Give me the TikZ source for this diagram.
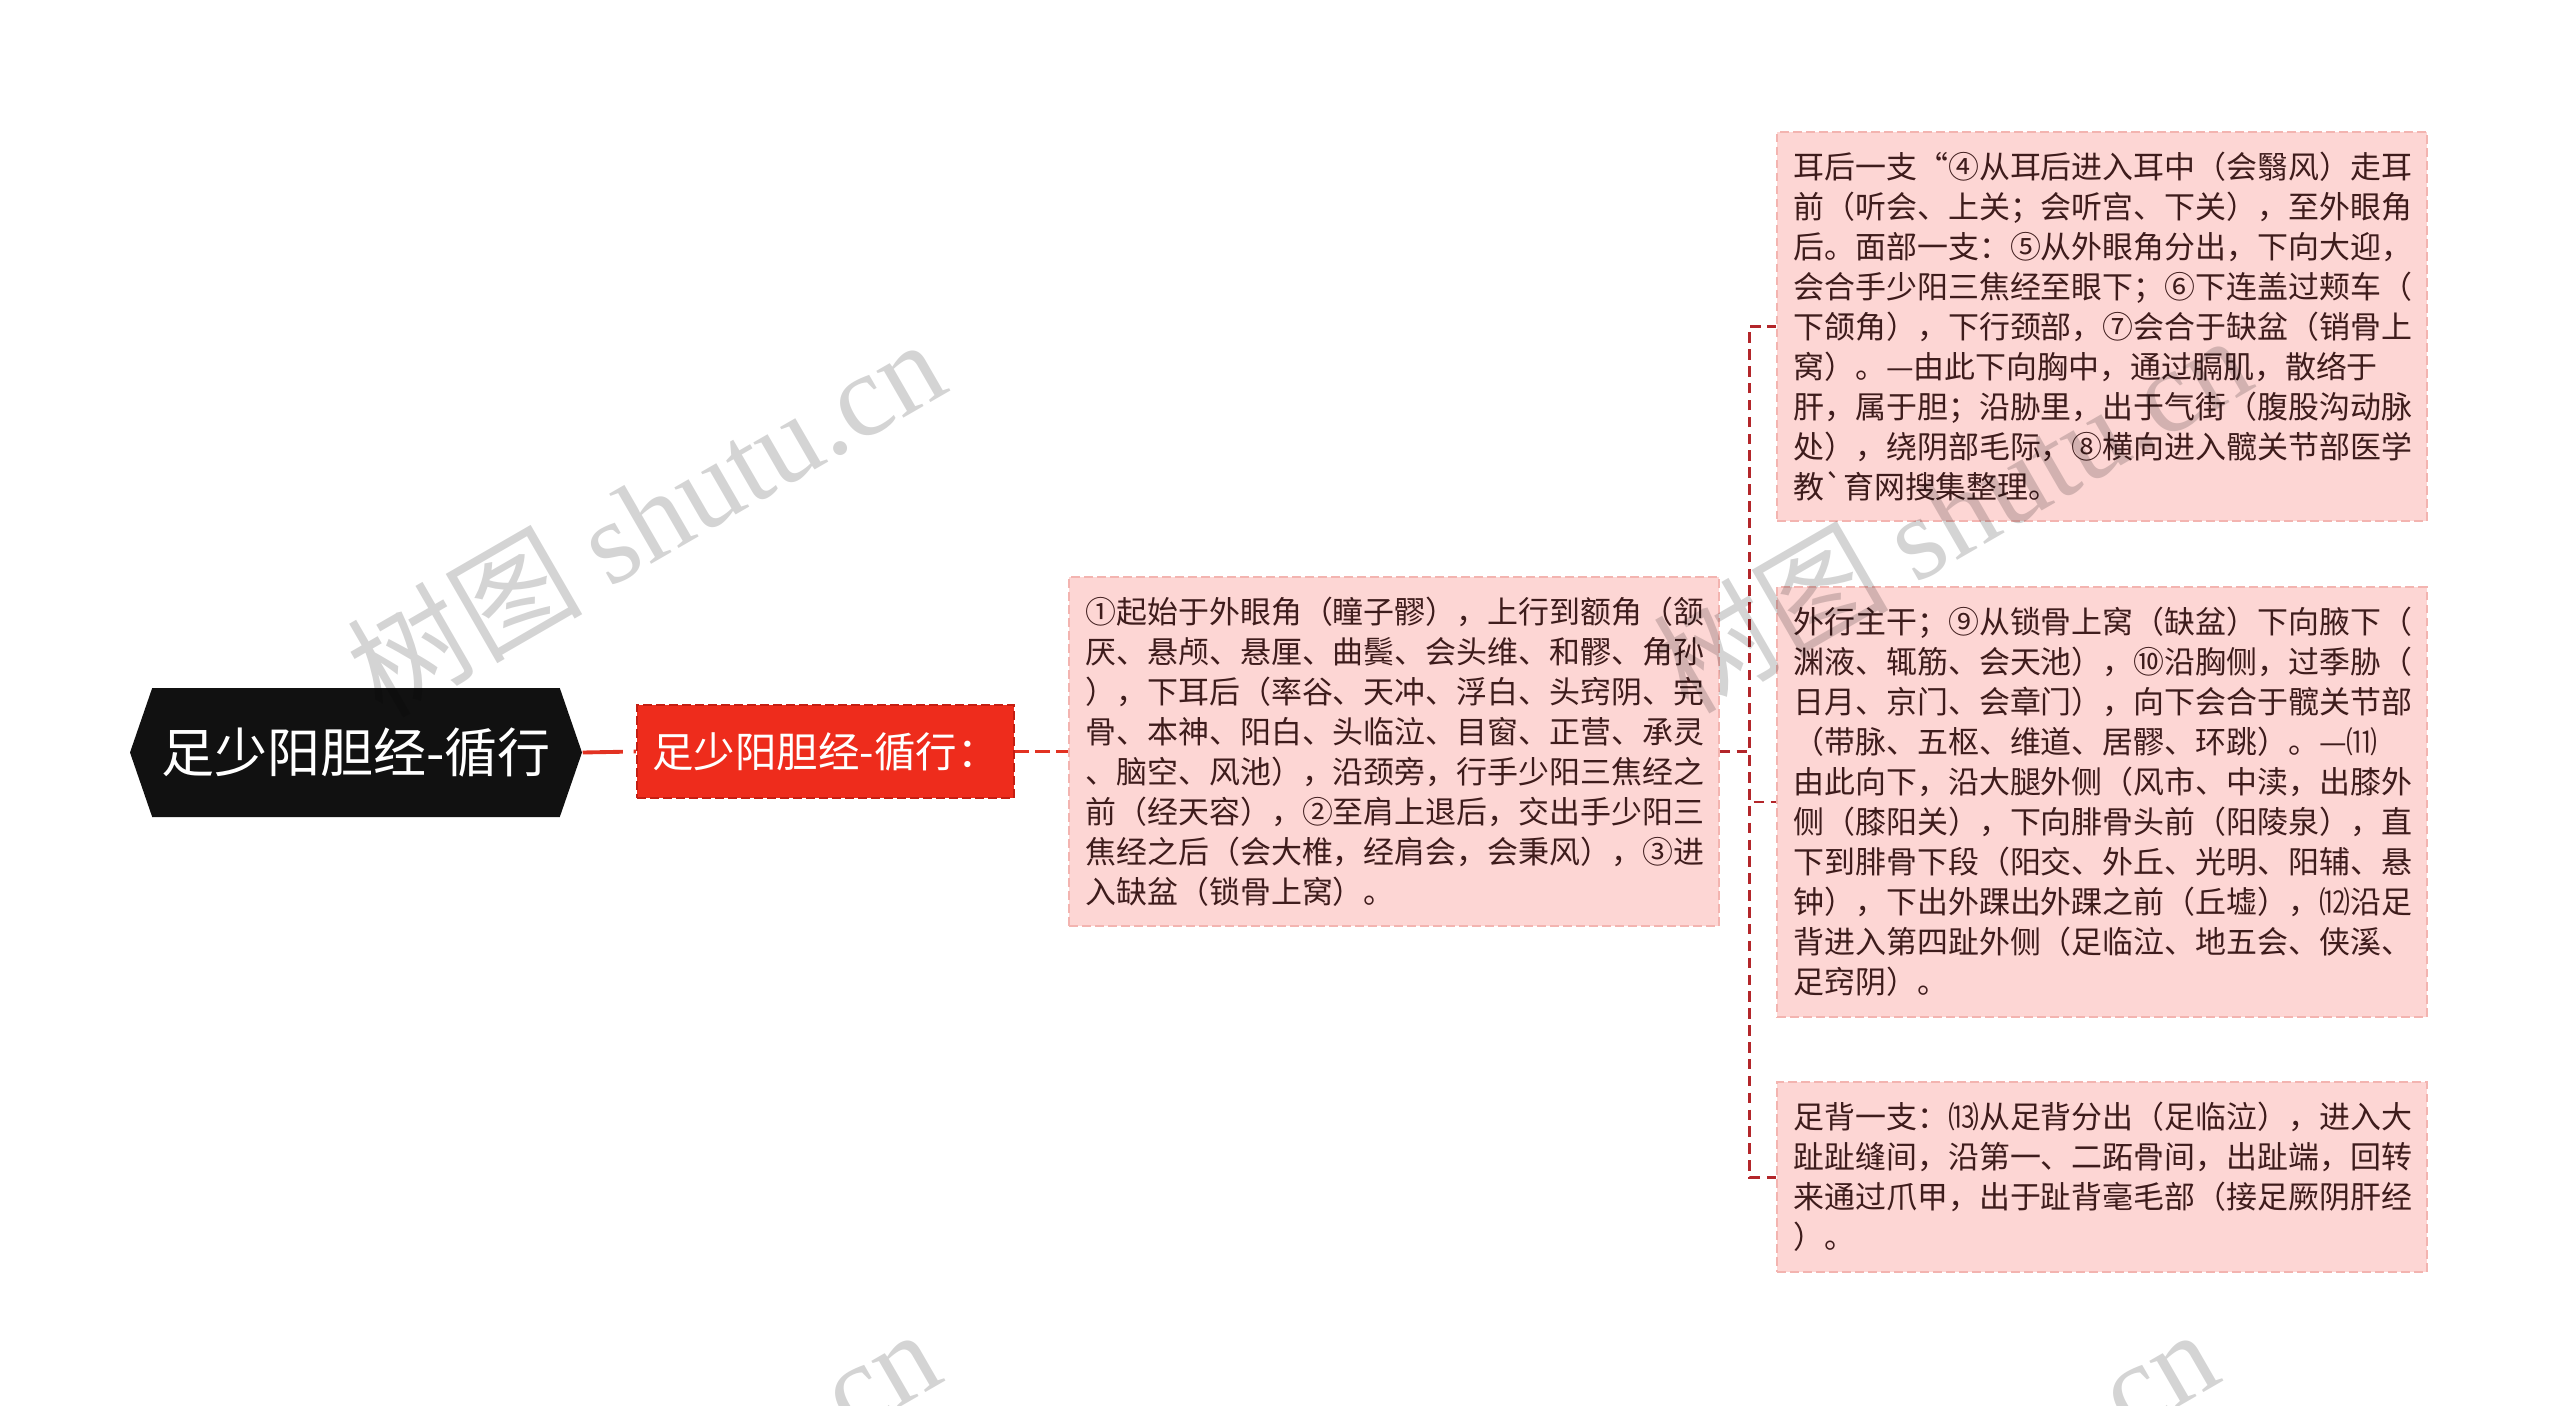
\documentclass[tikz,border=0pt]{standalone}
\usepackage{fontspec}
\setmainfont{Noto Sans CJK SC}
\newfontfamily\wmfont{Liberation Serif}
\usetikzlibrary{shapes.symbols}

\definecolor{rootblack}{HTML}{111111}
\definecolor{subred}{HTML}{EE2C1C}
\definecolor{subredline}{HTML}{C41E12}
\definecolor{linkred}{HTML}{E23222}
\definecolor{forkred}{HTML}{B3262A}
\definecolor{leafpink}{HTML}{FDD6D4}
\definecolor{leafline}{HTML}{F3B4B0}
\definecolor{leaftext}{HTML}{3E1C1C}

\tikzset{
  rootnode/.style={shape=signal, signal to=west and east, signal pointer angle=142,
    fill=rootblack, text=white, minimum width=4.52cm, minimum height=1.29cm, inner sep=0pt,
    font=\fontsize{15.1pt}{18pt}\selectfont},
  subnode/.style={fill=subred, draw=subredline, dash pattern=on 2.5pt off 1.2pt, line width=0.6pt,
    text=white, minimum width=3.77cm, minimum height=0.93cm, inner sep=0pt,
    font=\fontsize{11.8pt}{14pt}\selectfont},
  leafnode/.style={fill=leafpink, draw=leafline, dash pattern=on 2.5pt off 1.2pt, line width=0.5pt,
    text=leaftext, text width=6.17cm, inner xsep=0.165cm, inner ysep=0.2cm, align=left,
    font=\fontsize{8.8pt}{11.38pt}\selectfont},
  rootlink/.style={draw=linkred, line width=1.1pt, dash pattern=on 11.4pt off 3.1pt},
  sublink/.style={draw=linkred, line width=0.85pt, dash pattern=on 4pt off 1.8pt},
  forklink/.style={draw=forkred, line width=0.85pt, dash pattern=on 3pt off 1.8pt},
  watermark/.style={text=black, text opacity=0.17, rotate=30, inner sep=0pt,
    font=\fontsize{33.5pt}{36pt}\selectfont}
}

\begin{document}
\begin{tikzpicture}
  \useasboundingbox (0,0) rectangle (25.6,-14.06);

  \node[rootnode] (root) at (3.56,-7.525) {足少阳胆经-循行};
  \node[subnode] (sub) at (8.255,-7.515) {足少阳胆经-循行：};

  \node[leafnode] (course) at (13.94,-7.515) {①起始于外眼角（瞳子髎），上行到额角（颔\\
    厌、悬颅、悬厘、曲鬓、会头维、和髎、角孙\\
    ），下耳后（率谷、天冲、浮白、头窍阴、完\\
    骨、本神、阳白、头临泣、目窗、正营、承灵\\
    、脑空、风池），沿颈旁，行手少阳三焦经之\\
    前（经天容），②至肩上退后，交出手少阳三\\
    焦经之后（会大椎，经肩会，会秉风），③进\\
    入缺盆（锁骨上窝）。};

  \node[leafnode] (ear) at (21.02,-3.265) {耳后一支“④从耳后进入耳中（会翳风）走耳\\
    前（听会、上关；会听宫、下关），至外眼角\\
    后。面部一支：⑤从外眼角分出，下向大迎，\\
    会合手少阳三焦经至眼下；⑥下连盖过颊车（\\
    下颌角），下行颈部，⑦会合于缺盆（销骨上\\
    窝）。—由此下向胸中，通过膈肌，散络于\\
    肝，属于胆；沿胁里，出于气街（腹股沟动脉\\
    处），绕阴部毛际，⑧横向进入髋关节部医学\\
    教\textasciigrave 育网搜集整理。};

  \node[leafnode] (trunk) at (21.02,-8.02) {外行主干；⑨从锁骨上窝（缺盆）下向腋下（\\
    渊液、辄筋、会天池），⑩沿胸侧，过季胁（\\
    日月、京门、会章门），向下会合于髋关节部\\
    （带脉、五枢、维道、居髎、环跳）。—⑾\\
    由此向下，沿大腿外侧（风市、中渎，出膝外\\
    侧（膝阳关），下向腓骨头前（阳陵泉），直\\
    下到腓骨下段（阳交、外丘、光明、阳辅、悬\\
    钟），下出外踝出外踝之前（丘墟），⑿沿足\\
    背进入第四趾外侧（足临泣、地五会、侠溪、\\
    足窍阴）。};

  \node[leafnode] (foot) at (21.02,-11.77) {足背一支：⒀从足背分出（足临泣），进入大\\
    趾趾缝间，沿第一、二跖骨间，出趾端，回转\\
    来通过爪甲，出于趾背毫毛部（接足厥阴肝经\\
    ）。};

  \draw[rootlink] (root.east) -- (sub.west);
  \draw[sublink] (sub.east) -- (course.west);
  \draw[forklink] (course.east) -- ++(0.3,0) |- (ear.west);
  \draw[forklink] (course.east) -- ++(0.3,0) |- (trunk.west);
  \draw[forklink] (course.east) -- ++(0.3,0) |- (foot.west);

  % watermarks
  \begin{scope}
    \clip (0,0) rectangle (25.6,-14.06);
    \foreach \wx/\wy [count=\i] in {6.45/-5.16, 19.51/-5.12, 6.40/-15.06, 19.18/-15.06}
      \node[watermark] (wm\i) at (\wx,\wy) {树图 {\wmfont shutu.cn}};
  \end{scope}
\end{tikzpicture}
\end{document}
